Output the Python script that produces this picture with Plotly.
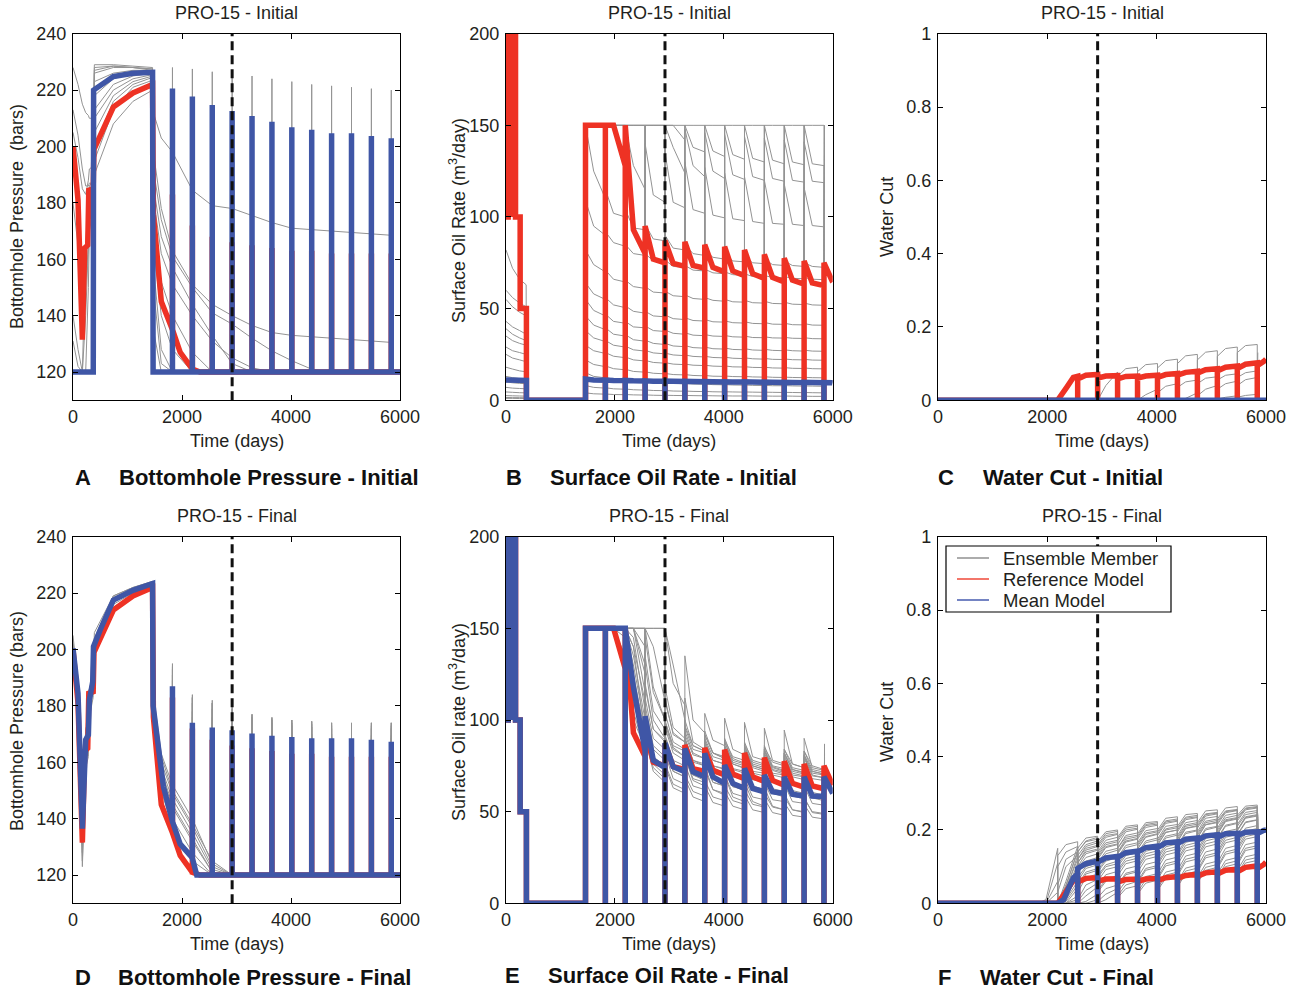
import plotly.graph_objects as go

# ---------------- canvas / style ----------------
W, H = 1297, 992
GRAY, RED, BLUE, INK = "#939393", "#EE3224", "#3F56A6", "#231F20"
FONT = "Liberation Sans, Arial, Helvetica, sans-serif"
COL_X = [(73, 400), (506, 832.7), (938, 1266)]
ROW_Y = [(33.7, 400.2), (536.7, 903.3)]

# ---------------- schedule (days) ----------------
SHUT_T = [1825, 2190, 2555, 2920, 3285, 3650, 4015, 4380, 4745, 5110, 5475, 5840]
SEG_START = [1460, 1825, 2190, 2555, 2920, 3285, 3650, 4015, 4380, 4745, 5110, 5475, 5840]
SEG_KNEE = [1610, 1975, 2340, 2705, 3070, 3435, 3800, 4165, 4530, 4895, 5260, 5625, 5990]
SEG_END = [1825, 2190, 2555, 2920, 3285, 3650, 4015, 4380, 4745, 5110, 5475, 5840, 6000]
ENS_END_T = 5850
HISTORY_END_T = 2920

# early rate schedule (rate-controlled start, shut-in 375..1460)
SCHED_T = [0, 40, 40, 105, 105, 105, 175, 175, 260, 260, 375, 375, 1460]
SCHED_V = [100, 100, 260, 260, 100, 260, 260, 100, 100, 50, 50, 0, 0]

# ---------------- bottomhole pressure (bars) ----------------
BHP_EARLY_T = [0, 92, 172, 233, 282, 300, 370, 392, 740, 1100, 1460]
BHP_PROD_T = [1475, 1620, 1825, 2190, 2555, 2920, 3285, 3650, 4015, 4380, 4745, 5110, 5475, 5840]

REF_BHP_T = [0, 92, 172, 215, 270, 290, 370, 385, 740, 1100, 1460, 1475, 1620, 1825, 1967, 2190, 2330,
             2555, 2920, 3285, 3650, 4015, 4380, 4745, 5110, 5475, 5840, 6000]
REF_BHP_V = [200, 181, 131.5, 164, 165, 184.5, 185, 199, 214, 219, 222, 176, 145, 135, 127, 121, 120,
             120, 120, 120, 120, 120, 120, 120, 120, 120, 120, 120]
REF_BHP_PEAKS = [183, 172, 168, 166, 165, 164, 163, 163, 162, 162, 162, 162]

MEAN_INIT_BHP_T = [0, 372, 378, 740, 1100, 1460, 1470, 1825, 2190, 2555, 2920, 3285, 3650, 4015,
                   4380, 4745, 5110, 5475, 5840, 6000]
MEAN_INIT_BHP_V = [120, 120, 220, 224.8, 226, 226.3, 120, 120, 120, 120, 120, 120, 120, 120,
                   120, 120, 120, 120, 120, 120]
MEAN_INIT_BHP_PEAKS = [220.6, 217.7, 214.7, 212.6, 210.8, 208.8, 206.8, 205.9, 204.7, 204.7, 203.7, 202.9]

MEAN_FINAL_BHP_T = [0, 92, 172, 233, 282, 300, 362, 376, 500, 740, 1100, 1460, 1470, 1660, 1825, 1967,
                    2150, 2190, 2270, 2555, 2920, 3285, 3650, 4015, 4380, 4745, 5110, 5475, 5840, 6000]
MEAN_FINAL_BHP_V = [200.4, 184.4, 136.5, 168, 169.7, 182, 188.6, 201, 207, 217.5, 221, 223.4, 180, 151.3,
                    139, 131, 127, 126, 120, 120, 120, 120, 120, 120, 120, 120, 120, 120, 120, 120]
MEAN_FINAL_BHP_PEAKS = [187, 174, 172.3, 171.4, 170.2, 169.4, 169, 168.5, 168.5, 168.5, 168, 167.3]

A_ENS_EARLY = [
    [228, 222, 215, 212, 211, 210, 210, 229, 229, 228.5, 228],
    [205, 196, 185, 183, 188, 192, 193, 226, 228, 228, 227.5],
    [120, 120, 120, 165, 182, 186, 188, 213, 222, 225, 226],
    [140, 128, 120, 120, 150, 170, 178, 190, 208, 216, 220],
    [213, 204, 192, 186, 186, 187, 187, 223, 226, 227, 227],
    [120, 120, 120, 120, 120, 120, 120, 227, 228.5, 228, 227.5],
    [120, 120, 120, 120, 120, 120, 120, 218, 224, 226, 226.5],
    [131, 122, 120, 120, 120, 120, 120, 205, 218, 223, 225],
    [120, 120, 120, 120, 120, 120, 120, 195, 213, 221, 223.5],
    [120, 120, 120, 120, 120, 120, 120, 228, 228.5, 228, 227],
    [180, 165, 150, 150, 165, 175, 180, 210, 220, 224, 225.5],
    [120, 120, 120, 140, 165, 180, 185, 200, 216, 222, 224.5],
]
A_ENS_PROD = [
    [212, 203, 198, 184.5, 179, 178, 175.5, 173, 171, 170.5, 170, 169.5, 169, 168.5],
    [198, 178, 163, 151, 144, 140, 136.5, 134, 133, 132.5, 132, 131.5, 131, 130.5],
    [192, 174, 161, 150, 141, 137, 132, 127.5, 124, 121, 120, 120, 120, 120],
    [186, 168, 157, 144, 133, 123, 120, 120, 120, 120, 120, 120, 120, 120],
    [172, 152, 140, 127, 120, 120, 120, 120, 120, 120, 120, 120, 120, 120],
    [158, 128, 120, 120, 120, 120, 120, 120, 120, 120, 120, 120, 120, 120],
    [120, 120, 120, 120, 120, 120, 120, 120, 120, 120, 120, 120, 120, 120],
    [150, 123, 120, 120, 120, 120, 120, 120, 120, 120, 120, 120, 120, 120],
    [135, 120, 120, 120, 120, 120, 120, 120, 120, 120, 120, 120, 120, 120],
    [120, 120, 120, 120, 120, 120, 120, 120, 120, 120, 120, 120, 120, 120],
    [182, 162, 151, 140, 131, 125, 121.5, 120, 120, 120, 120, 120, 120, 120],
    [165, 140, 128, 120, 120, 120, 120, 120, 120, 120, 120, 120, 120, 120],
]
A_ENS_PEAKS = [
    [228, 227.5, 226.5, 226, 225, 224, 223, 222, 221.5, 221, 220.5, 220],
    [219, 216, 213, 211, 209, 207, 205, 204, 203, 202, 201, 200],
    [216, 213, 210, 208, 206, 204, 202, 201, 200, 199, 198, 198],
    [214, 211, 209, 207, 205, 203, 202, 201, 200, 199, 198, 197],
    [217, 214, 211, 209, 207, 205, 203, 202, 201, 200, 199, 198],
    [212, 209, 207, 205, 203, 201, 200, 199, 198, 197, 196, 196],
    [210, 207, 205, 203, 201, 200, 199, 198, 197, 196, 196, 195],
    [208, 205, 203, 201, 199, 198, 197, 196, 195, 195, 194, 194],
    [205, 202, 200, 198, 197, 196, 195, 194, 193, 193, 192, 192],
    [218, 215, 212, 210, 208, 206, 204, 203, 202, 201, 200, 199],
    [213, 210, 208, 206, 204, 202, 201, 200, 199, 198, 197, 197],
    [211, 208, 206, 204, 202, 201, 200, 199, 198, 197, 196, 196],
]

D_ENS_EARLY = [
    [205, 188, 140, 172, 174, 186, 190, 206, 219, 222, 224.2],
    [198, 182, 128, 162, 165, 180, 186, 200, 216, 220, 223],
    [202, 186, 123, 160, 164, 178, 185, 199, 215, 219.5, 222.5],
    [196, 180, 133, 166, 168, 181, 187, 202, 217, 221, 223.5],
    [201, 185, 137, 170, 172, 185, 190, 203, 218.5, 221.5, 223.8],
    [194, 178, 125, 158, 162, 176, 183, 198, 214, 219, 222],
    [203, 187, 131, 164, 167, 182, 188, 201, 217, 220.5, 223],
    [199, 183, 135, 170, 173, 186, 191, 204, 219, 222, 224],
]
D_ENS_PROD = [
    [184, 163, 152, 140, 124, 120, 120, 120, 120, 120, 120, 120, 120, 120],
    [180, 158, 147, 135, 122, 120, 120, 120, 120, 120, 120, 120, 120, 120],
    [176, 152, 140, 128, 120, 120, 120, 120, 120, 120, 120, 120, 120, 120],
    [182, 160, 149, 137, 123, 120, 120, 120, 120, 120, 120, 120, 120, 120],
    [181, 157, 145, 133, 121, 120, 120, 120, 120, 120, 120, 120, 120, 120],
    [175, 150, 137, 125, 120, 120, 120, 120, 120, 120, 120, 120, 120, 120],
    [179, 156, 144, 132, 121, 120, 120, 120, 120, 120, 120, 120, 120, 120],
    [183, 162, 150, 138, 125, 120, 120, 120, 120, 120, 120, 120, 120, 120],
]
D_ENS_PEAKS = [
    [195, 184, 182, 180, 177, 175.6, 175, 174.5, 174, 173.8, 174, 174],
    [191, 181, 179, 177, 175, 174, 173, 172.5, 172, 172, 172, 172],
    [183, 171, 169, 168, 167, 166, 166, 165, 165, 165, 165, 164],
    [193, 183, 181, 179, 176, 175, 174, 173.5, 173, 173, 173, 173],
    [189, 178, 176, 174, 172, 171, 170.5, 170, 170, 170, 169.5, 169.5],
    [180, 170, 168, 167, 166, 165, 165, 164, 164, 164, 164, 163],
    [186, 176, 174, 173, 171, 170, 169.5, 169, 169, 169, 168.5, 168.5],
    [194, 183, 181, 179, 177, 176, 175, 174.5, 174, 174, 174, 174],
]

# ---------------- surface oil rate (m3/day); production rows = (start, knee, end) per segment ----------------
REF_RATE_PROD = [150, 150, 150, 150, 150, 128, 150, 93, 80, 95, 77, 75, 87, 74.6, 73, 86.4, 73.5, 72,
                 84.8, 72.5, 70, 83.8, 70.5, 68, 82, 69, 66.5, 79.5, 67, 64.5, 77.5, 65.5, 63.3,
                 76, 64, 62.5, 75, 65, 64.5]
MEAN_INIT_RATE_EARLY_T = [0, 375, 375, 1460]
MEAN_INIT_RATE_EARLY_V = [11, 10.8, 0, 0]
MEAN_INIT_RATE_PROD = [11.5, 11, 10.9, 11, 10.8, 10.7, 10.8, 10.6, 10.5, 10.6, 10.4, 10.3, 10.4, 10.3, 10.2,
                       10.3, 10.2, 10.1, 10.2, 10.1, 10, 10.1, 10, 9.9, 10, 9.9, 9.8, 9.9, 9.8, 9.7,
                       9.8, 9.7, 9.6, 9.7, 9.6, 9.5, 9.6, 9.5, 9.4]
MEAN_FINAL_RATE_PROD = [150, 150, 150, 150, 150, 150, 150, 118, 83, 102, 78, 74, 87.4, 74.5, 71.8,
                        84.5, 71.8, 69, 81.8, 69, 65.4, 75.4, 65.4, 62.7, 73.6, 62.7, 60.8, 70, 60.8, 59.9,
                        69, 59.5, 58.5, 69, 58.5, 58.3, 69, 60.5, 60]

B_ENS_EARLY_T = [0, 120, 250, 370]
B_ENS_SHUT_T = [375, 1460]
B_ENS_EARLY = [
    [82, 72, 66, 63], [60, 56, 53, 51], [55, 51, 48, 46], [43, 40, 38, 36], [39, 36, 34, 32.5],
    [35, 32.5, 31, 30], [29, 27, 26, 25], [25, 23, 22, 21], [18, 17, 16, 15.5], [13, 12.3, 11.8, 11.4],
    [10, 9.5, 9.2, 9], [7, 6.6, 6.4, 6.2], [4.5, 4.3, 4.1, 4], [2.5, 2.4, 2.3, 2.2], [1.5, 1.4, 1.4, 1.3],
    [1, 1, 0.9, 0.9],
]
B_ENS_PROD = [
    [150, 150, 150, 150, 150, 150, 150, 150, 150, 150, 150, 150, 150, 150, 150, 150, 150, 150,
     150, 150, 150, 150, 150, 150, 150, 150, 150, 150, 150, 150, 150, 150, 150, 150, 150, 150],
    [150, 150, 150, 150, 150, 150, 150, 150, 150, 150, 150, 150, 150, 150, 142, 150, 138, 135.5,
     150, 136, 133, 150, 134, 131.5, 150, 132, 130, 150, 131, 129, 150, 130, 128.5, 150, 129, 128],
    [150, 150, 150, 150, 150, 150, 150, 150, 150, 150, 150, 150, 150, 138, 124, 148, 128, 122,
     146, 125, 121, 145, 123, 120.5, 144, 122, 120, 143, 121, 119.5, 142, 120, 119, 141, 119.5, 118.7],
    [150, 150, 150, 150, 150, 150, 150, 128, 115, 140, 112, 108, 135, 108, 105, 130, 104, 102,
     127, 101, 99.5, 124, 99, 98, 122, 97.5, 96.5, 120, 96.5, 96, 118, 96, 95.3, 116, 95.3, 94.6],
    [150, 125, 110, 115, 102, 100, 104, 94, 93, 96, 88, 87, 90, 83, 82, 85, 80, 79,
     82, 78, 77, 80, 76, 75.5, 78, 75, 74.5, 77, 74, 73.5, 76, 73.5, 73, 75, 73, 72.5],
    [109, 95, 90, 92, 86, 84, 85, 80, 79, 80, 76, 75.5, 76.5, 73, 72.5, 73.5, 71, 70.5,
     71.5, 69.5, 69, 70, 68.5, 68, 69, 67.5, 67.2, 68, 67, 66.8, 67.5, 66.5, 66.3, 67, 66, 65.8],
    [82, 74, 70, 71, 66, 64.5, 65.5, 62, 61, 62, 59, 58.5, 59.5, 57, 56.5, 57.5, 55.5, 55,
     56, 54.5, 54, 55, 53.7, 53.5, 54.5, 53.2, 53, 54, 52.8, 52.6, 53.5, 52.4, 52.2, 53, 52, 51.8],
    [64, 58, 55, 56, 52, 50.5, 51.5, 48.5, 47.5, 48.5, 46, 45.5, 46.5, 44.5, 44, 45, 43.5, 43.2,
     44, 42.8, 42.6, 43.3, 42.3, 42.1, 42.8, 41.9, 41.7, 42.4, 41.5, 41.4, 42, 41.2, 41.1, 41.8, 41, 40.9],
    [55, 49, 46, 47, 43, 42, 43, 40, 39.5, 40.5, 38, 37.5, 38.3, 36.5, 36, 36.8, 35.5, 35.2,
     35.8, 35, 34.8, 35.3, 34.6, 34.4, 35, 34.2, 34.1, 34.6, 34, 33.9, 34.3, 33.8, 33.7, 34.1, 33.6, 33.5],
    [46, 41, 38.5, 39.5, 36, 35, 35.8, 33, 32.2, 32.8, 31, 30.4, 31, 29.6, 29.2, 29.8, 28.7, 28.4,
     29, 28.1, 27.9, 28.5, 27.7, 27.5, 28.1, 27.4, 27.2, 27.8, 27.2, 27, 27.5, 27, 26.8, 27.3, 26.8, 26.7],
    [38, 34, 32, 32.6, 30, 29, 29.5, 27.5, 26.8, 27.2, 25.8, 25.3, 25.7, 24.7, 24.3, 24.7, 23.9, 23.6,
     24, 23.3, 23.1, 23.5, 22.9, 22.7, 23.1, 22.6, 22.4, 22.8, 22.3, 22.2, 22.5, 22.1, 22, 22.3, 21.9, 21.8],
    [30, 27, 25.5, 26, 24, 23.2, 23.6, 22, 21.4, 21.7, 20.6, 20.2, 20.5, 19.7, 19.4, 19.7, 19.1, 18.9,
     19.1, 18.6, 18.4, 18.7, 18.2, 18.1, 18.3, 17.9, 17.8, 18, 17.6, 17.5, 17.8, 17.4, 17.3, 17.6, 17.2, 17.1],
    [22, 19.5, 18.3, 18.7, 17.2, 16.6, 16.9, 15.7, 15.3, 15.5, 14.7, 14.4, 14.6, 14, 13.8, 14, 13.5, 13.3,
     13.5, 13.1, 13, 13.2, 12.9, 12.8, 13, 12.7, 12.6, 12.8, 12.5, 12.4, 12.6, 12.4, 12.3, 12.5, 12.3, 12.2],
    [15, 13, 12.2, 12.5, 11.4, 11, 11.2, 10.4, 10.1, 10.3, 9.7, 9.5, 9.6, 9.2, 9, 9.2, 8.8, 8.7,
     8.8, 8.5, 8.4, 8.5, 8.3, 8.2, 8.3, 8.1, 8, 8.1, 7.9, 7.9, 8, 7.8, 7.7, 7.8, 7.7, 7.6],
    [8, 7, 6.6, 6.8, 6.2, 6, 6.1, 5.7, 5.5, 5.6, 5.3, 5.2, 5.3, 5, 4.9, 5, 4.8, 4.7,
     4.8, 4.6, 4.5, 4.6, 4.5, 4.4, 4.5, 4.4, 4.3, 4.4, 4.3, 4.2, 4.3, 4.2, 4.1, 4.2, 4.1, 4],
    [4, 3.5, 3.3, 3.4, 3.1, 3, 3.1, 2.9, 2.8, 2.9, 2.7, 2.6, 2.7, 2.6, 2.5, 2.6, 2.5, 2.4,
     2.5, 2.4, 2.3, 2.4, 2.3, 2.3, 2.4, 2.3, 2.2, 2.3, 2.2, 2.2, 2.3, 2.2, 2.1, 2.2, 2.1, 2.1],
]
B_ENS_RESTART = [150, 150, 140, 115, 74.5, 67, 53, 41.8, 34, 27.2, 22.2, 17.5, 12.5, 7.8, 4.2, 2.2]

E_ENS_PROD = [
    [150, 150, 150, 150, 150, 150, 150, 150, 150, 150, 150, 150, 150, 120, 108, 135, 100, 93,
     103.6, 89, 86, 101, 84, 81, 98.7, 80, 78, 95.5, 78, 76, 94.5, 76, 74, 90, 74, 72.5],
    [150, 150, 150, 150, 150, 150, 150, 150, 150, 150, 118, 100, 112, 92, 88, 96, 84, 82,
     90, 80, 78, 88, 77, 75, 86, 75, 73, 84, 73, 71.5, 82, 72, 70.5, 80, 71, 70],
    [150, 150, 150, 150, 150, 150, 150, 150, 115, 120, 95, 88, 98, 84, 80, 90, 78, 76,
     86, 75, 73, 84, 73, 71, 82, 71, 69.5, 80, 70, 68.5, 78, 69, 67.5, 77, 68, 67],
    [150, 150, 150, 150, 150, 150, 150, 130, 96, 108, 86, 80, 92, 78, 75, 86, 74, 72,
     83, 71, 69.5, 80, 69, 67.5, 78, 67.5, 66, 76, 66, 65, 75, 65, 64, 74, 64, 63],
    [150, 150, 150, 150, 150, 150, 150, 140, 90, 100, 80, 74, 85, 72, 69, 80, 68, 66,
     77, 66, 64, 74, 63.5, 62, 72, 62, 60.5, 70, 60.5, 59.5, 69, 59.5, 58.5, 68, 58.5, 57.5],
    [150, 150, 150, 150, 150, 150, 150, 120, 88, 98, 76, 70, 82, 68, 65, 76, 64, 62,
     73, 62, 60, 70, 60, 58, 68, 58, 56.5, 66, 56.5, 55.5, 65, 55.5, 54.5, 64, 54.5, 53.5],
    [150, 150, 150, 150, 150, 135, 150, 100, 85, 95, 78, 74, 85, 72, 69, 80, 67, 64,
     75, 62, 59, 70, 58, 55.5, 66, 55.5, 53, 63, 53, 51, 60, 51, 49.5, 58, 49.5, 48.5],
    [150, 150, 150, 150, 150, 150, 150, 145, 105, 112, 90, 84, 96, 82, 78, 90, 77, 75,
     87, 75, 73.5, 85, 73.5, 72, 84, 72, 71, 82, 71, 70, 81, 70, 69, 80, 69.5, 68.5],
    [150, 150, 150, 150, 150, 150, 150, 150, 150, 150, 140, 110, 118, 96, 90, 100, 86, 83,
     94, 82, 79, 90, 79, 76.5, 88, 77, 75, 86, 75, 73.5, 84, 74, 72.5, 83, 73, 71.5],
    [150, 150, 150, 150, 150, 150, 150, 135, 100, 105, 84, 78, 88, 75, 71, 82, 70, 67,
     78, 66, 64, 75, 64, 61.5, 72, 62, 59.5, 70, 60, 58, 68, 58.5, 57, 67, 57.5, 56],
    [150, 150, 150, 150, 150, 150, 150, 150, 125, 130, 100, 90, 100, 85, 80, 90, 78, 75,
     85, 74, 71, 82, 71, 68.5, 79, 69, 66.5, 77, 67, 65, 75, 65.5, 63.5, 73, 64, 62.5],
    [150, 150, 150, 150, 150, 150, 150, 110, 86, 92, 74, 68, 76, 65, 62, 70, 61, 58.5,
     67, 58, 56, 64, 56, 54, 62, 54, 52.5, 60, 52.5, 51, 58, 51, 50, 57, 50, 49],
    [150, 150, 150, 150, 150, 150, 150, 150, 150, 150, 150, 150, 150, 130, 100, 112, 88, 84,
     92, 82, 79, 88, 78, 76, 86, 76, 74, 84, 74.5, 72.5, 82, 73, 71.5, 81, 72, 70.5],
    [150, 150, 150, 150, 150, 150, 150, 150, 130, 135, 105, 95, 104, 88, 84, 94, 82, 79,
     89, 78, 76, 86, 76, 73.5, 84, 74, 72, 82, 72.5, 70.5, 80, 71, 69.5, 79, 70, 68.5],
    [150, 150, 150, 150, 150, 150, 150, 125, 92, 100, 80, 75, 86, 74, 71, 81, 70, 68,
     78, 68, 66, 75, 66, 64, 73, 64, 62, 71, 62.5, 61, 70, 61.5, 60, 69, 60.5, 59],
    [150, 150, 150, 150, 150, 150, 150, 140, 110, 118, 95, 89, 99, 86, 83, 92, 81, 79,
     88, 78, 76, 86, 76, 74, 85, 75, 73, 83, 74, 72, 82, 73, 71, 81, 72, 70.5],
    [150, 150, 150, 150, 150, 145, 150, 105, 82, 90, 72, 66, 75, 63, 60, 68, 58, 55.5,
     64, 55, 53, 61, 53, 51, 59, 51, 49.5, 57, 49.5, 48, 55, 48, 47, 54, 47, 46],
    [150, 150, 150, 150, 150, 150, 150, 150, 140, 145, 115, 100, 110, 93, 88, 97, 86, 83,
     92, 82, 80, 89, 80, 78, 87, 78, 76, 85, 77, 75, 84, 76, 74, 83, 75, 73],
]
E_ENS_RESTART = [87, 78, 75, 73, 67, 63, 57, 79, 82, 65, 72, 56, 80, 77, 68, 80, 53, 82]

# ---------------- water cut (fraction) ----------------
REF_WCUT_T = [0, 2190, 2354, 2476, 2555, 2555, 2555, 2705, 2920, 2920, 2920, 3070, 3285, 3285, 3285,
              3435, 3650, 3650, 3650, 3800, 4015, 4015, 4015, 4165, 4380, 4380, 4380, 4530, 4745, 4745,
              4745, 4895, 5110, 5110, 5110, 5260, 5475, 5475, 5475, 5625, 5840, 5840, 5840, 5960, 6000]
REF_WCUT_V = [0, 0, 0.035, 0.062, 0.065, 0, 0.058, 0.068, 0.07, 0, 0.06, 0.066, 0.067, 0, 0.058,
              0.065, 0.066, 0, 0.06, 0.066, 0.068, 0, 0.062, 0.07, 0.073, 0, 0.068, 0.076, 0.079, 0,
              0.074, 0.083, 0.086, 0, 0.08, 0.09, 0.093, 0, 0.086, 0.098, 0.102, 0, 0.094, 0.106, 0.112]
MEAN_INIT_WCUT_T = [0, 6000]
MEAN_INIT_WCUT_V = [0, 0]
MEAN_FINAL_WCUT_T = [0, 2190, 2300, 2400, 2480, 2555, 2555, 2555, 2705, 2920, 2920, 2920, 3070, 3285, 3285,
                     3285, 3435, 3650, 3650, 3650, 3800, 4015, 4015, 4015, 4165, 4380, 4380, 4380, 4530,
                     4745, 4745, 4745, 4895, 5110, 5110, 5110, 5260, 5475, 5475, 5475, 5625, 5840, 5840,
                     5840, 5960, 6000]
MEAN_FINAL_WCUT_V = [0, 0, 0.01, 0.045, 0.07, 0.08, 0, 0.095, 0.108, 0.115, 0, 0.112, 0.124, 0.128, 0,
                     0.125, 0.138, 0.142, 0, 0.14, 0.152, 0.156, 0, 0.152, 0.165, 0.168, 0, 0.163, 0.175,
                     0.178, 0, 0.172, 0.184, 0.187, 0, 0.18, 0.19, 0.191, 0, 0.185, 0.194, 0.195, 0,
                     0.19, 0.199, 0.2]
WCUT_ENS_EARLY_T = [0, 1460]
WCUT_ENS_EARLY_V = [0, 0]

C_ENS_PROD = [
    [0, 0, 0, 0, 0, 0, 0, 0, 0, 0, 0, 0, 0, 0.04, 0.077, 0.065, 0.086, 0.09,
     0.078, 0.097, 0.1, 0.088, 0.108, 0.112, 0.1, 0.121, 0.125, 0.11, 0.131, 0.135, 0.12, 0.141, 0.145,
     0.13, 0.149, 0.152],
    [0, 0, 0, 0, 0, 0, 0, 0, 0, 0, 0, 0, 0, 0, 0, 0, 0, 0,
     0, 0.015, 0.03, 0.02, 0.038, 0.045, 0.035, 0.05, 0.055, 0.045, 0.06, 0.064, 0.055, 0.068, 0.072,
     0.062, 0.075, 0.08],
    [0, 0, 0, 0, 0, 0, 0, 0, 0, 0, 0, 0, 0, 0, 0, 0, 0, 0,
     0, 0, 0, 0, 0, 0, 0, 0.005, 0.02, 0.012, 0.03, 0.04, 0.03, 0.045, 0.052, 0.04, 0.056, 0.062],
    [0, 0, 0, 0, 0, 0, 0, 0, 0, 0, 0, 0, 0, 0, 0, 0, 0, 0,
     0, 0, 0, 0, 0, 0, 0, 0, 0, 0, 0, 0.005, 0.003, 0.008, 0.012, 0.008, 0.013, 0.016],
]
C_ENS_RESTART = [0.13, 0.065, 0.045, 0.01]

F_ENS_PROD = [
    [0, 0, 0, 0, 0.01, 0.15, 0.13, 0.16, 0.168, 0.15, 0.178, 0.183, 0.168, 0.195, 0.2, 0.18, 0.21, 0.214,
     0.19, 0.22, 0.223, 0.2, 0.232, 0.236, 0.21, 0.242, 0.245, 0.22, 0.252, 0.255, 0.23, 0.26, 0.264,
     0.24, 0.265, 0.268],
    [0, 0, 0, 0, 0, 0.11, 0.1, 0.14, 0.155, 0.14, 0.168, 0.175, 0.155, 0.185, 0.19, 0.17, 0.2, 0.205,
     0.18, 0.212, 0.216, 0.19, 0.222, 0.226, 0.2, 0.232, 0.236, 0.21, 0.242, 0.246, 0.22, 0.25, 0.254,
     0.23, 0.258, 0.262],
    [0, 0, 0, 0, 0, 0, 0, 0.05, 0.14, 0.12, 0.155, 0.165, 0.14, 0.172, 0.18, 0.15, 0.185, 0.192,
     0.165, 0.198, 0.204, 0.175, 0.21, 0.215, 0.185, 0.22, 0.226, 0.195, 0.232, 0.237, 0.205, 0.24, 0.246,
     0.215, 0.248, 0.253],
    [0, 0, 0, 0, 0, 0, 0, 0.04, 0.12, 0.1, 0.135, 0.145, 0.12, 0.152, 0.16, 0.135, 0.167, 0.175,
     0.148, 0.18, 0.188, 0.16, 0.193, 0.2, 0.17, 0.205, 0.212, 0.18, 0.215, 0.222, 0.19, 0.225, 0.232,
     0.2, 0.234, 0.24],
    [0, 0, 0, 0, 0, 0, 0, 0.03, 0.1, 0.08, 0.115, 0.125, 0.105, 0.135, 0.145, 0.12, 0.152, 0.16,
     0.13, 0.165, 0.173, 0.14, 0.178, 0.186, 0.155, 0.19, 0.198, 0.165, 0.2, 0.208, 0.175, 0.21, 0.218,
     0.185, 0.22, 0.227],
    [0, 0, 0, 0, 0, 0, 0, 0.02, 0.085, 0.07, 0.1, 0.11, 0.09, 0.12, 0.13, 0.105, 0.137, 0.145,
     0.115, 0.15, 0.158, 0.125, 0.162, 0.17, 0.135, 0.174, 0.182, 0.145, 0.185, 0.193, 0.155, 0.196, 0.203,
     0.165, 0.205, 0.212],
    [0, 0, 0, 0, 0, 0, 0, 0.01, 0.06, 0.05, 0.085, 0.095, 0.075, 0.105, 0.115, 0.09, 0.122, 0.13,
     0.1, 0.135, 0.143, 0.11, 0.147, 0.155, 0.12, 0.158, 0.166, 0.13, 0.17, 0.178, 0.14, 0.18, 0.188,
     0.15, 0.19, 0.197],
    [0, 0, 0, 0, 0, 0, 0, 0, 0.04, 0.03, 0.07, 0.08, 0.06, 0.092, 0.1, 0.075, 0.108, 0.116,
     0.085, 0.12, 0.128, 0.095, 0.132, 0.14, 0.105, 0.143, 0.151, 0.115, 0.154, 0.162, 0.125, 0.165, 0.173,
     0.135, 0.175, 0.182],
    [0, 0, 0, 0, 0, 0, 0, 0, 0.02, 0.01, 0.05, 0.065, 0.045, 0.078, 0.087, 0.06, 0.094, 0.102,
     0.07, 0.106, 0.114, 0.08, 0.118, 0.126, 0.09, 0.129, 0.137, 0.1, 0.14, 0.148, 0.11, 0.15, 0.158,
     0.12, 0.16, 0.167],
    [0, 0, 0, 0, 0, 0, 0, 0, 0, 0, 0.02, 0.045, 0.03, 0.06, 0.07, 0.045, 0.078, 0.086,
     0.055, 0.09, 0.098, 0.065, 0.102, 0.11, 0.075, 0.113, 0.121, 0.085, 0.124, 0.132, 0.095, 0.134, 0.142,
     0.105, 0.144, 0.151],
    [0, 0, 0, 0, 0, 0, 0, 0, 0, 0, 0.005, 0.025, 0.015, 0.04, 0.05, 0.03, 0.06, 0.068,
     0.04, 0.073, 0.081, 0.05, 0.085, 0.093, 0.06, 0.096, 0.104, 0.07, 0.107, 0.115, 0.08, 0.117, 0.125,
     0.09, 0.127, 0.134],
    [0, 0, 0, 0, 0, 0, 0, 0, 0, 0, 0, 0, 0, 0.01, 0.03, 0.015, 0.04, 0.048,
     0.025, 0.055, 0.063, 0.035, 0.068, 0.076, 0.045, 0.08, 0.088, 0.055, 0.09, 0.098, 0.065, 0.1, 0.108,
     0.075, 0.11, 0.117],
    [0, 0, 0, 0, 0, 0, 0, 0.06, 0.155, 0.14, 0.17, 0.18, 0.16, 0.19, 0.196, 0.175, 0.205, 0.21,
     0.185, 0.215, 0.22, 0.195, 0.225, 0.23, 0.205, 0.235, 0.24, 0.215, 0.244, 0.248, 0.225, 0.252, 0.256,
     0.235, 0.26, 0.264],
    [0, 0, 0, 0, 0, 0, 0, 0.025, 0.11, 0.095, 0.125, 0.135, 0.11, 0.142, 0.15, 0.125, 0.158, 0.165,
     0.138, 0.17, 0.178, 0.148, 0.183, 0.19, 0.158, 0.194, 0.2, 0.168, 0.204, 0.21, 0.178, 0.213, 0.22,
     0.188, 0.222, 0.228],
    [0, 0, 0, 0, 0, 0.06, 0.05, 0.12, 0.14, 0.12, 0.15, 0.158, 0.135, 0.165, 0.172, 0.15, 0.18, 0.186,
     0.16, 0.192, 0.198, 0.17, 0.203, 0.21, 0.18, 0.214, 0.22, 0.19, 0.224, 0.23, 0.2, 0.233, 0.24,
     0.21, 0.242, 0.248],
    [0, 0, 0, 0, 0, 0, 0, 0.035, 0.13, 0.11, 0.145, 0.155, 0.13, 0.16, 0.168, 0.14, 0.175, 0.182,
     0.155, 0.188, 0.195, 0.165, 0.2, 0.206, 0.175, 0.21, 0.216, 0.185, 0.22, 0.226, 0.195, 0.228, 0.234,
     0.2, 0.236, 0.242],
    [0, 0, 0, 0, 0, 0, 0, 0.015, 0.075, 0.06, 0.095, 0.105, 0.085, 0.115, 0.125, 0.1, 0.13, 0.138,
     0.11, 0.142, 0.15, 0.12, 0.154, 0.162, 0.13, 0.166, 0.174, 0.14, 0.177, 0.185, 0.15, 0.187, 0.195,
     0.16, 0.197, 0.204],
    [0, 0, 0, 0, 0, 0, 0, 0.005, 0.05, 0.04, 0.08, 0.09, 0.07, 0.1, 0.108, 0.085, 0.115, 0.123,
     0.095, 0.128, 0.136, 0.105, 0.14, 0.148, 0.115, 0.151, 0.159, 0.125, 0.162, 0.17, 0.135, 0.172, 0.18,
     0.145, 0.182, 0.189],
    [0, 0, 0, 0, 0, 0, 0, 0, 0.01, 0.005, 0.035, 0.055, 0.035, 0.065, 0.075, 0.05, 0.082, 0.09,
     0.06, 0.095, 0.103, 0.07, 0.108, 0.116, 0.08, 0.12, 0.128, 0.09, 0.13, 0.138, 0.1, 0.14, 0.148,
     0.11, 0.15, 0.157],
    [0, 0, 0, 0, 0, 0.03, 0.03, 0.1, 0.13, 0.11, 0.14, 0.148, 0.125, 0.155, 0.162, 0.138, 0.17, 0.177,
     0.148, 0.182, 0.19, 0.158, 0.194, 0.2, 0.168, 0.204, 0.21, 0.178, 0.214, 0.22, 0.188, 0.223, 0.23,
     0.198, 0.232, 0.238],
    [0, 0, 0, 0, 0, 0, 0, 0, 0, 0, 0, 0.01, 0.005, 0.025, 0.04, 0.02, 0.05, 0.06,
     0.03, 0.065, 0.073, 0.04, 0.077, 0.085, 0.05, 0.088, 0.096, 0.06, 0.098, 0.106, 0.07, 0.108, 0.116,
     0.08, 0.118, 0.125],
    [0, 0, 0, 0, 0, 0, 0, 0.045, 0.145, 0.13, 0.16, 0.17, 0.148, 0.18, 0.188, 0.16, 0.195, 0.202,
     0.175, 0.207, 0.213, 0.185, 0.218, 0.224, 0.195, 0.228, 0.234, 0.205, 0.238, 0.244, 0.215, 0.247, 0.253,
     0.225, 0.255, 0.26],
]
F_ENS_RESTART = [0.245, 0.235, 0.22, 0.205, 0.19, 0.175, 0.16, 0.145, 0.13, 0.115, 0.1, 0.085, 0.24, 0.2,
                 0.215, 0.21, 0.17, 0.155, 0.12, 0.205, 0.09, 0.23]

# ---------------- axes / text ----------------
Y_RANGES = [[110, 240], [0, 200], [0, 1]]
Y_TICKS = [[120, 140, 160, 180, 200, 220, 240], [0, 50, 100, 150, 200], [0, 0.2, 0.4, 0.6, 0.8, 1]]
Y_TICKTEXT = [["120", "140", "160", "180", "200", "220", "240"], ["0", "50", "100", "150", "200"],
              ["0", "0.2", "0.4", "0.6", "0.8", "1"]]
X_TICKS = [0, 2000, 4000, 6000]
X_TICKTEXT = ["0", "2000", "4000", "6000"]
PANEL_TITLES = ["PRO-15 - Initial", "PRO-15 - Initial", "PRO-15 - Initial",
                "PRO-15 - Final", "PRO-15 - Final", "PRO-15 - Final"]
Y_TITLES = ["Bottomhole Pressure\u00a0 (bars)", "Surface Oil Rate (m<sup>3</sup>/day)", "Water Cut",
            "Bottomhole Pressure (bars)", "Surface Oil rate (m<sup>3</sup>/day)", "Water Cut"]
CAP_LETTERS = ["A", "B", "C", "D", "E", "F"]
CAP_TEXT = ["Bottomhole Pressure - Initial", "Surface Oil Rate - Initial", "Water Cut - Initial",
            "Bottomhole Pressure - Final", "Surface Oil Rate - Final", "Water Cut - Final"]
CAP_LETTER_X = [83, 514, 946, 83, 512, 944]
CAP_TEXT_X = [117, 548, 981, 116, 546, 978]
CAP_Y = [477, 477, 477, 977, 975, 977]
YTITLE_X = [17, 457, 887, 17, 457, 887]
YTITLE_Y = [217, 221, 217, 721, 722, 722]
LEGEND_NAMES = ["Ensemble Member", "Reference Model", "Mean Model"]
LEGEND_COLORS = ["#A3A3A3", "#F2675A", "#6577BD"]
LEGEND_BOX = (946, 1171, 546, 612)
LEGEND_ROW_Y = [558, 579, 600]


# ---------------- builders ----------------
def production(flat, shut=0.0, restart=None):
    xs, ys = [], []
    n = len(flat) // 3
    for k in range(n):
        xs += [SEG_START[k], SEG_KNEE[k], SEG_END[k]]
        ys += flat[3 * k:3 * k + 3]
        if k < n - 1 or restart is not None:
            xs.append(SEG_END[k])
            ys.append(shut)
    if restart is not None:
        xs.append(ENS_END_T)
        ys.append(restart)
    return xs, ys


def spiked(ts, vs, peaks):
    xs, ys = [], []
    for t, v in zip(ts, vs):
        xs.append(t)
        ys.append(v)
        if t in SHUT_T:
            xs += [t, t]
            ys += [peaks[SHUT_T.index(t)], v]
    return xs, ys


fig = go.Figure()


def add(ax, xs, ys, color, width):
    n = "" if ax == 1 else str(ax)
    fig.add_trace(go.Scatter(x=xs, y=ys, mode="lines", showlegend=False, hoverinfo="skip",
                             line=dict(color=color, width=width, simplify=False),
                             xaxis="x" + n, yaxis="y" + n))


GW, TW = 1.0, 5.5

# Panel A / D : bottomhole pressure
for ax, early, prod, peaks, mt, mv, mp in [
        (1, A_ENS_EARLY, A_ENS_PROD, A_ENS_PEAKS, MEAN_INIT_BHP_T, MEAN_INIT_BHP_V, MEAN_INIT_BHP_PEAKS),
        (4, D_ENS_EARLY, D_ENS_PROD, D_ENS_PEAKS, MEAN_FINAL_BHP_T, MEAN_FINAL_BHP_V, MEAN_FINAL_BHP_PEAKS)]:
    for e, p, k in zip(early, prod, peaks):
        add(ax, *spiked(BHP_EARLY_T + BHP_PROD_T, e + p, k), GRAY, GW)
    add(ax, *spiked(REF_BHP_T, REF_BHP_V, REF_BHP_PEAKS), RED, TW)
    add(ax, *spiked(mt, mv, mp), BLUE, TW)

# Panel B : oil rate, initial
for e, p, r in zip(B_ENS_EARLY, B_ENS_PROD, B_ENS_RESTART):
    px_, py_ = production(p, 0.0, r)
    add(2, B_ENS_EARLY_T + B_ENS_SHUT_T + px_, e + [0, 0] + py_, GRAY, GW)
rx, ry = production(REF_RATE_PROD)
add(2, SCHED_T + rx, SCHED_V + ry, RED, TW)
bx, by = production(MEAN_INIT_RATE_PROD)
add(2, MEAN_INIT_RATE_EARLY_T + bx, MEAN_INIT_RATE_EARLY_V + by, BLUE, TW)

# Panel E : oil rate, final
for p, r in zip(E_ENS_PROD, E_ENS_RESTART):
    px_, py_ = production(p, 0.0, r)
    add(5, SCHED_T + px_, SCHED_V + py_, GRAY, GW)
add(5, SCHED_T + rx, SCHED_V + ry, RED, TW)
bx, by = production(MEAN_FINAL_RATE_PROD)
add(5, SCHED_T + bx, SCHED_V + by, BLUE, TW)

# Panel C / F : water cut
for ax, rows, rest, mt, mv in [(3, C_ENS_PROD, C_ENS_RESTART, MEAN_INIT_WCUT_T, MEAN_INIT_WCUT_V),
                               (6, F_ENS_PROD, F_ENS_RESTART, MEAN_FINAL_WCUT_T, MEAN_FINAL_WCUT_V)]:
    for p, r in zip(rows, rest):
        px_, py_ = production(p, 0.0, r)
        add(ax, WCUT_ENS_EARLY_T + px_, WCUT_ENS_EARLY_V + py_, GRAY, GW)
    add(ax, REF_WCUT_T, REF_WCUT_V, RED, TW)
    add(ax, mt, mv, BLUE, TW)

layout = dict(width=W, height=H, autosize=False,
              margin=dict(l=0, r=0, t=0, b=0, pad=0, autoexpand=False),
              paper_bgcolor="white", plot_bgcolor="white",
              font=dict(family=FONT, size=18, color=INK), showlegend=False)
shapes, ann = [], []
for i in range(6):
    r, c = divmod(i, 3)
    n = "" if i == 0 else str(i + 1)
    x0, x1 = COL_X[c]
    yt, yb = ROW_Y[r]
    common = dict(showline=True, mirror="ticks", linecolor="black", linewidth=1.3, ticks="inside",
                  ticklen=5, tickwidth=1, tickcolor="black", showgrid=False, zeroline=False,
                  automargin=False, tickfont=dict(size=18, color=INK, family=FONT))
    layout["xaxis" + n] = dict(domain=[x0 / W, x1 / W], anchor="y" + n, range=[0, 6000],
                               tickvals=X_TICKS, ticktext=X_TICKTEXT, ticklabelstandoff=0, **common)
    layout["yaxis" + n] = dict(domain=[1 - yb / H, 1 - yt / H], anchor="x" + n, range=Y_RANGES[c],
                               tickvals=Y_TICKS[c], ticktext=Y_TICKTEXT[c], ticklabelstandoff=2, **common)
    shapes.append(dict(type="line", xref="x" + n, yref="y" + n, x0=HISTORY_END_T, x1=HISTORY_END_T,
                       y0=Y_RANGES[c][0], y1=Y_RANGES[c][1], layer="above",
                       line=dict(color="#111111", width=3, dash="9px,5px")))
    cx = (x0 + x1) / 2
    ann.append(dict(text=PANEL_TITLES[i], x=cx / W, y=1 - (yt - 21) / H, xref="paper", yref="paper",
                    showarrow=False, xanchor="center", yanchor="middle", font=dict(size=18)))
    ann.append(dict(text="Time (days)", x=cx / W, y=1 - (yb + 40.5) / H, xref="paper", yref="paper",
                    showarrow=False, xanchor="center", yanchor="middle", font=dict(size=18)))
    ann.append(dict(text=Y_TITLES[i], x=YTITLE_X[i] / W, y=1 - YTITLE_Y[i] / H, xref="paper",
                    yref="paper", showarrow=False, xanchor="center", yanchor="middle", textangle=-90,
                    font=dict(size=18)))
    ann.append(dict(text="<b>%s</b>" % CAP_LETTERS[i], x=CAP_LETTER_X[i] / W, y=1 - CAP_Y[i] / H,
                    xref="paper", yref="paper", showarrow=False, xanchor="center", yanchor="middle",
                    font=dict(size=22, color="#111111")))
    ann.append(dict(text="<b>%s</b>" % CAP_TEXT[i], x=CAP_TEXT_X[i] / W, y=1 - CAP_Y[i] / H,
                    xref="paper", yref="paper", showarrow=False, xanchor="left", yanchor="middle",
                    font=dict(size=22, color="#111111")))

# legend box (panel F), drawn above the dashed marker
lx0, lx1, ly0, ly1 = LEGEND_BOX
shapes.append(dict(type="rect", xref="paper", yref="paper", x0=lx0 / W, x1=lx1 / W, y0=1 - ly1 / H,
                   y1=1 - ly0 / H, fillcolor="white", line=dict(color="black", width=1.2), layer="above"))
for name, col, ry_ in zip(LEGEND_NAMES, LEGEND_COLORS, LEGEND_ROW_Y):
    shapes.append(dict(type="line", xref="paper", yref="paper", x0=957 / W, x1=989 / W, y0=1 - ry_ / H,
                       y1=1 - ry_ / H, layer="above", line=dict(color=col, width=1.8)))
    ann.append(dict(text=name, x=1001 / W, y=1 - ry_ / H, xref="paper", yref="paper", showarrow=False,
                    xanchor="left", yanchor="middle", font=dict(size=18.5)))

layout["shapes"] = shapes
layout["annotations"] = ann
fig.update_layout(**layout)
fig.write_html("out.html")
